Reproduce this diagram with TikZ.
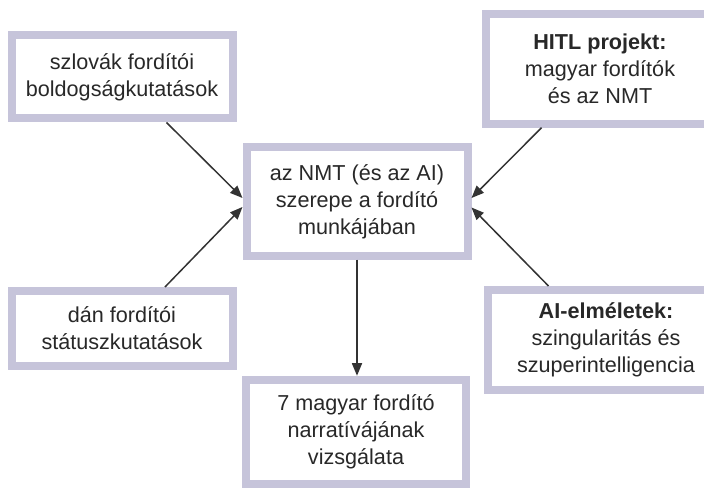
\documentclass[tikz,border=0pt]{standalone}
\usepackage{fontspec}
\setmainfont{Liberation Sans}
\usetikzlibrary{arrows.meta,positioning,calc}
\definecolor{NmtLavender}{RGB}{198,196,218}
\definecolor{NmtInk}{RGB}{40,40,40}
\definecolor{NmtArrow}{RGB}{51,51,51}
\tikzset{
  nmt/box/.style={
    draw=NmtLavender,
    line width=0.16cm,
    fill=white,
    align=center,
    text=NmtInk,
    inner sep=0pt,
    minimum width=4.42cm,
    font=\fontsize{12.3}{15.4}\selectfont
  },
  nmt/arrow/.style={-{Triangle[length=0.25cm,width=0.2cm]}, line width=0.03cm, draw=NmtArrow}
}
\begin{document}
\begin{tikzpicture}[x=1cm,y=1cm]
  \useasboundingbox (0,0) rectangle (14.08,9.78);
  \clip (0,0) rectangle (14.08,9.78);
  \node[nmt/box,minimum height=1.66cm] (szlovak) at (2.44,8.24) {szlovák fordítói\\boldogságkutatások};
  \node[nmt/box,minimum height=1.5cm] (dan) at (2.44,3.21) {dán fordítói\\státuszkutatások};
  \node[nmt/box,minimum height=2.17cm] (kozep) at (7.14,5.75) {az NMT (és az AI)\\szerepe a fordító\\munkájában};
  \node[nmt/box,minimum width=4.41cm,minimum height=2.09cm] (narrativ) at (7.12,1.14) {7 magyar fordító\\narratívájának\\vizsgálata};
  \node[nmt/box,minimum width=4.57cm,minimum height=2.19cm] (hitl) at (12.0,8.40) {\textbf{HITL projekt:}\\magyar fordítók\\és az NMT};
  \node[nmt/box,minimum width=4.72cm,minimum height=2.0cm] (elmelet) at (12.12,2.98) {\textbf{AI-elméletek:}\\szingularitás és\\szuperintelligencia};
  \draw[nmt/arrow] ([xshift=0.89cm]szlovak.south) -- ([yshift=0.07cm]kozep.west);
  \draw[nmt/arrow] ([xshift=0.86cm]dan.north) -- ([yshift=-0.11cm]kozep.west);
  \draw[nmt/arrow] ([xshift=-1.17cm]hitl.south) -- ([yshift=0.07cm]kozep.east);
  \draw[nmt/arrow] ([xshift=-1.15cm]elmelet.north) -- ([yshift=-0.12cm]kozep.east);
  \draw[nmt/arrow] (kozep.south) -- (kozep.south |- narrativ.north);
\end{tikzpicture}
\end{document}
